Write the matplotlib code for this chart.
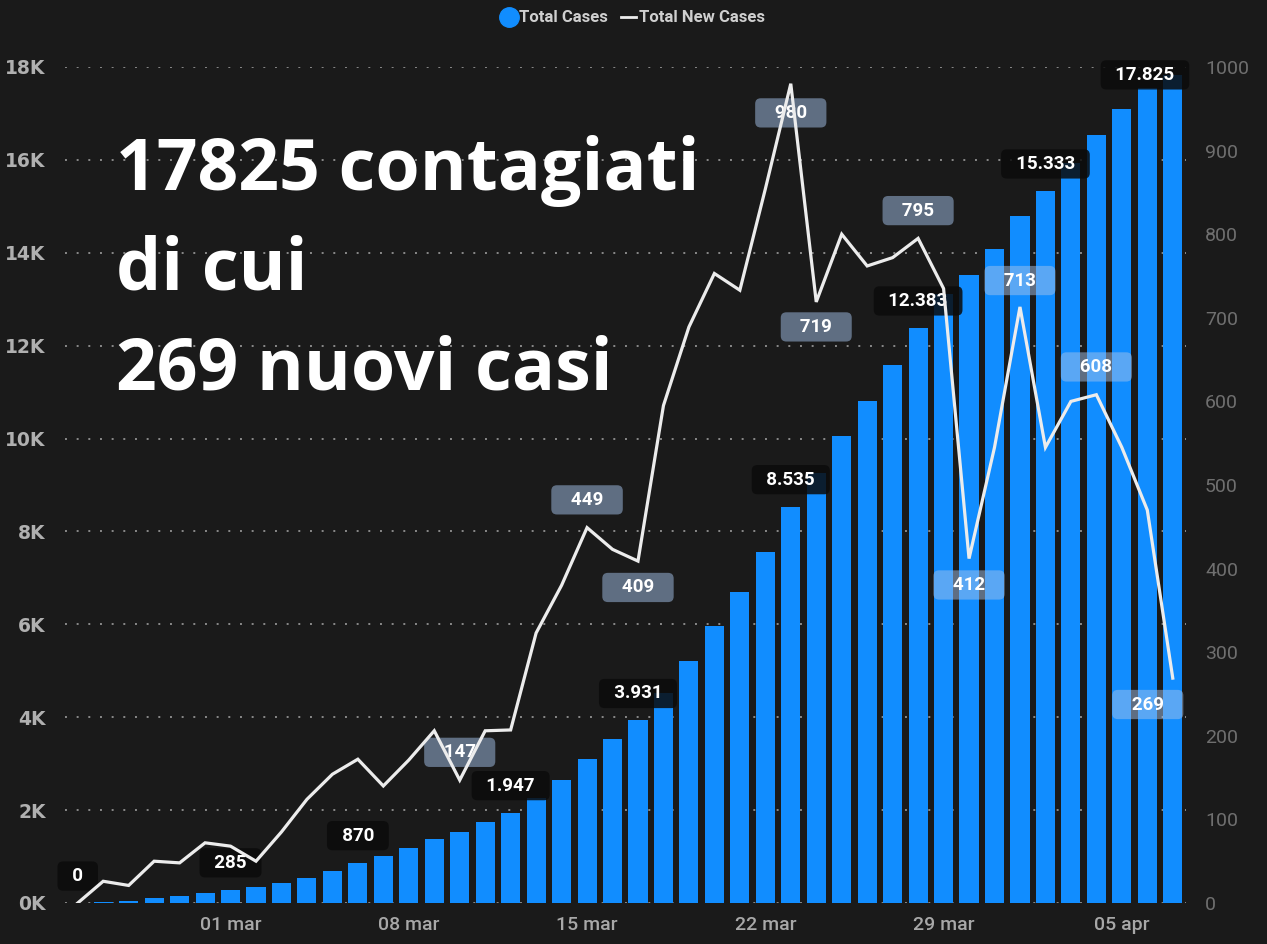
import matplotlib
matplotlib.use("Agg")
import matplotlib.pyplot as plt
from matplotlib.lines import Line2D
import pandas as pd

# daily data, 24 feb -> 07 apr 2020
dates = pd.date_range("2020-02-24", "2020-04-07", freq="D")
total_cases = [0, 26, 47, 97, 145, 217, 285, 335, 420, 544, 698, 870, 1010, 1181,
               1387, 1534, 1740, 1947, 2270, 2650, 3099, 3522, 3931, 4526, 5215,
               5968, 6701, 7555, 8535, 9254, 10054, 10816, 11588, 12383, 13118,
               13530, 14075, 14788, 15333, 15933, 16541, 17086, 17556, 17825]
new_cases = [0, 26, 21, 50, 48, 72, 68, 50, 85, 124, 154, 172, 140, 171, 206, 147,
             206, 207, 323, 380, 449, 423, 409, 595, 689, 753, 733, 854, 980, 719,
             800, 762, 772, 795, 735, 412, 545, 713, 545, 600, 608, 545, 470, 269]

tick_dates = ["2020-03-01", "2020-03-08", "2020-03-15", "2020-03-22", "2020-03-29", "2020-04-05"]
tick_labels = ["01 mar", "08 mar", "15 mar", "22 mar", "29 mar", "05 apr"]
bar_label_dates = ["2020-02-24", "2020-03-01", "2020-03-06", "2020-03-12", "2020-03-17",
                   "2020-03-23", "2020-03-28", "2020-04-02", "2020-04-07"]
line_label_dates = ["2020-03-10", "2020-03-15", "2020-03-17", "2020-03-23", "2020-03-24",
                    "2020-03-28", "2020-03-30", "2020-04-01", "2020-04-04", "2020-04-07"]

BG = "#1a1a1a"
BLUE = "#118dff"
LINE = "#ececec"

# label offsets in points (dx, dy) for the line labels
line_offsets = {"2020-03-10": (0, 20), "2020-03-15": (0, 20), "2020-03-17": (0, -19),
                "2020-03-23": (0, -21), "2020-03-24": (0, -18), "2020-03-28": (0, 20),
                "2020-03-30": (0, -19), "2020-04-01": (0, 19), "2020-04-04": (0, 20),
                "2020-04-07": (-18, -19)}

fig = plt.figure(figsize=(12.67, 9.44), dpi=100, facecolor=BG)
ax = fig.add_axes([65 / 1267, 41 / 944, 1120.5 / 1267, 836 / 944])
ax.set_facecolor(BG)
ax2 = ax.twinx()

x = list(range(len(dates)))
idx = {d.strftime("%Y-%m-%d"): i for i, d in enumerate(dates)}

ax.bar(x, total_cases, width=0.75, color=BLUE, zorder=2)
ax2.plot(x, new_cases, color=LINE, lw=2.3, solid_joinstyle="miter", zorder=5)

ax.set_xlim(-0.5, len(dates) - 0.5)
ax.set_ylim(0, 18000)
ax2.set_ylim(0, 1000)

ax.set_yticks(range(0, 18001, 2000))
ax.set_yticklabels([f"{v // 1000}K" for v in range(0, 18001, 2000)])
ax2.set_yticks(range(0, 1001, 100))
ax.set_xticks([idx[d] for d in tick_dates])
ax.set_xticklabels(tick_labels)

ax.grid(axis="y", color="#8a8a8a", linestyle=(0, (1, 5)), linewidth=1.4, zorder=0)
ax.set_axisbelow(True)
for a in (ax, ax2):
    for s in a.spines.values():
        s.set_visible(False)
ax.tick_params(axis="both", length=0)
ax2.tick_params(axis="y", length=0, pad=14, labelsize=14, labelcolor="#6f6f6f")
ax.tick_params(axis="y", pad=14, labelsize=13.5, labelcolor="#b0b0b0")
ax.tick_params(axis="x", pad=9, labelsize=14, labelcolor="#a8a8a8")
for t in ax.get_yticklabels():
    t.set_fontfamily("DejaVu Sans")
    t.set_fontweight("bold")
for t in ax.get_xticklabels() + ax2.get_yticklabels():
    t.set_fontfamily("Roboto")
for t in ax.get_xticklabels():
    t.set_fontweight("medium")

# bar data labels
for d in bar_label_dates:
    i = idx[d]
    v = total_cases[i]
    dx = -20 if i == len(dates) - 1 else 0
    ax.annotate("  " + f"{v:,}".replace(",", ".") + "  ", (i, min(v + 580, 17830)),
                xytext=(dx, 0), textcoords="offset points",
                ha="center", va="center", color="white", fontsize=13.5,
                fontweight="bold", family="Roboto", zorder=4,
                bbox=dict(boxstyle="round,pad=0.3,rounding_size=0.3",
                          fc="#0b0b0b", ec="none", alpha=0.85))

# line data labels
for d in line_label_dates:
    i = idx[d]
    dx, dy = line_offsets[d]
    ax2.annotate("   " + str(new_cases[i]) + "   ", (i, new_cases[i]), xytext=(dx, dy),
                 textcoords="offset points", ha="center", va="center",
                 color="white", fontsize=13.5, fontweight="bold", family="Roboto",
                 zorder=3,
                 bbox=dict(boxstyle="round,pad=0.3,rounding_size=0.3",
                           fc="#a4c2ea", ec="none", alpha=0.5))

# legend
handles = [Line2D([], [], marker="o", ls="none", color=BLUE, markersize=14),
           Line2D([], [], color=LINE, lw=2)]
fig.legend(handles, ["Total Cases", "Total New Cases"], loc="center",
           bbox_to_anchor=(633 / 1267, 1 - 18 / 944), ncol=2, frameon=False,
           handlelength=0.9, handletextpad=0.15, columnspacing=0.8,
           prop={"family": "Roboto", "weight": "bold", "size": 12},
           labelcolor="#cfcfcf")

# overlay text
for txt, yb in [("17825 contagiati", 190), ("di cui", 290), ("269 nuovi casi", 390)]:
    fig.text(116 / 1267, 1 - yb / 944, txt, color="white", fontsize=51.5,
             fontweight="bold", family="Open Sans", va="baseline", ha="left")

fig.savefig("out.png", dpi=100, facecolor=BG)
